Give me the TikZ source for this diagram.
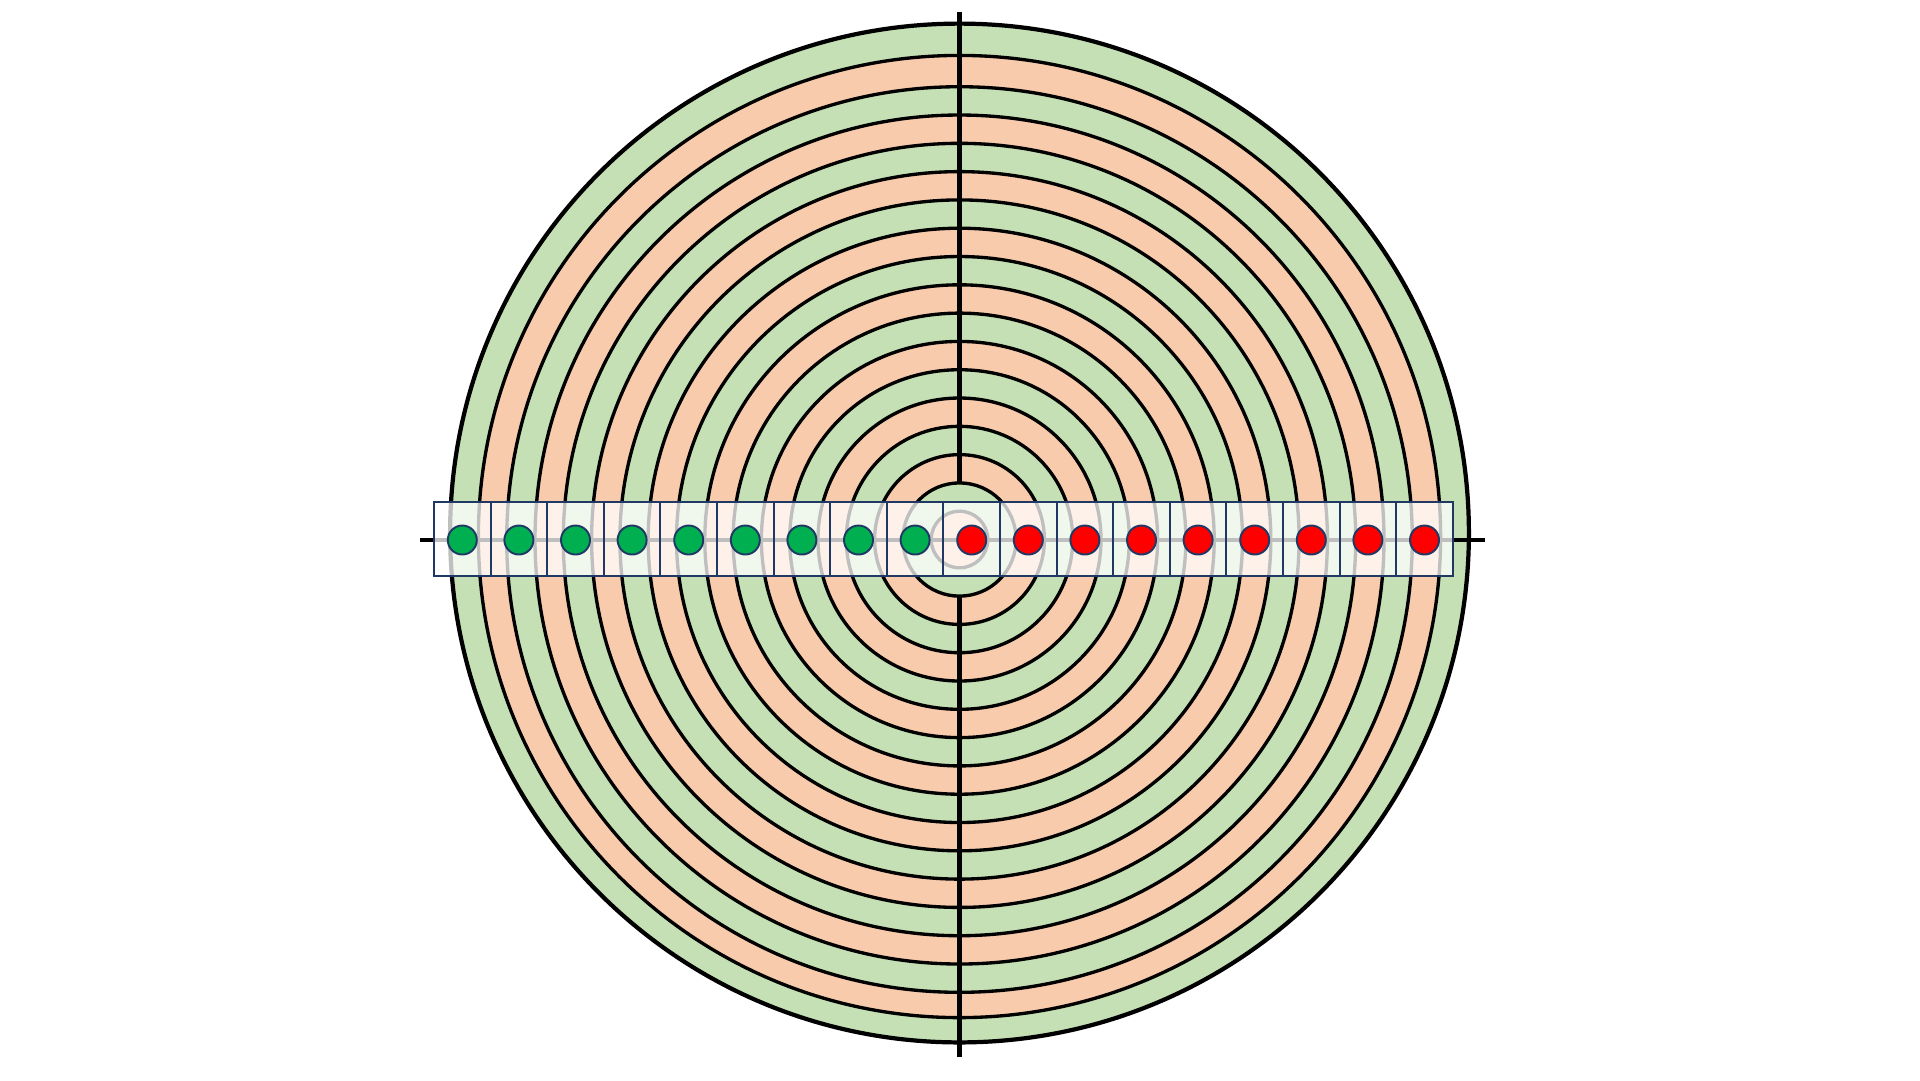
\documentclass[tikz,border=0pt]{standalone}
\definecolor{ringgreen}{RGB}{197,224,180}
\definecolor{ringpeach}{RGB}{248,203,173}
\definecolor{cellnavy}{RGB}{31,56,100}
\definecolor{dotgreen}{RGB}{0,176,80}
\definecolor{dotred}{RGB}{255,0,0}
\begin{document}
\begin{tikzpicture}[x=0.1mm, y=-0.1mm,
  ring/.style={draw=black, line width=0.95pt},
  axis/.style={draw=black, line width=1.2pt},
  cell/.style={draw=cellnavy, line width=0.55pt, fill=white, fill opacity=0.75},
  dot/.style={draw=cellnavy, line width=0.55pt}]

\useasboundingbox (0,0) rectangle (1920,1080);

\filldraw[ring, fill=ringgreen, line width=1.2pt] (959.5,533) circle (509.4);
\filldraw[ring, fill=ringpeach] (959.5,536.5) circle (481.1);
\filldraw[ring, fill=ringgreen] (959.5,539.5) circle (452.8);
\filldraw[ring, fill=ringpeach] (959.5,539.5) circle (424.5);
\filldraw[ring, fill=ringgreen] (959.5,539.5) circle (396.2);
\filldraw[ring, fill=ringpeach] (959.5,539.5) circle (367.9);
\filldraw[ring, fill=ringgreen] (959.5,539.5) circle (339.6);
\filldraw[ring, fill=ringpeach] (959.5,539.5) circle (311.3);
\filldraw[ring, fill=ringgreen] (959.5,539.5) circle (283);
\filldraw[ring, fill=ringpeach] (959.5,539.5) circle (254.7);
\filldraw[ring, fill=ringgreen] (959.5,539.5) circle (226.4);
\filldraw[ring, fill=ringpeach] (959.5,539.5) circle (198.1);
\filldraw[ring, fill=ringgreen] (959.5,539.5) circle (169.8);
\filldraw[ring, fill=ringpeach] (959.5,539.5) circle (141.5);
\filldraw[ring, fill=ringgreen] (959.5,539.5) circle (113.2);
\filldraw[ring, fill=ringpeach] (959.5,539.5) circle (84.9);

\draw[axis] (959.5,12) -- (959.5,1057);

\filldraw[ring, fill=ringgreen] (959.5,539.5) circle (56.6);
\filldraw[ring, fill=ringpeach] (959.5,539.5) circle (28.3);

\draw[axis] (420,540) -- (1485,540);

\draw[cell] (434,502) rectangle (490.6,576);
\draw[cell] (490.6,502) rectangle (547.2,576);
\draw[cell] (547.2,502) rectangle (603.8,576);
\draw[cell] (603.8,502) rectangle (660.4,576);
\draw[cell] (660.4,502) rectangle (717,576);
\draw[cell] (717,502) rectangle (773.6,576);
\draw[cell] (773.6,502) rectangle (830.2,576);
\draw[cell] (830.2,502) rectangle (886.8,576);
\draw[cell] (886.8,502) rectangle (943.4,576);
\draw[cell] (943.4,502) rectangle (1000,576);
\draw[cell] (1000,502) rectangle (1056.6,576);
\draw[cell] (1056.6,502) rectangle (1113.2,576);
\draw[cell] (1113.2,502) rectangle (1169.8,576);
\draw[cell] (1169.8,502) rectangle (1226.4,576);
\draw[cell] (1226.4,502) rectangle (1283,576);
\draw[cell] (1283,502) rectangle (1339.6,576);
\draw[cell] (1339.6,502) rectangle (1396.2,576);
\draw[cell] (1396.2,502) rectangle (1452.8,576);

\filldraw[dot, fill=dotgreen] (462.3,540) circle (14.5);
\filldraw[dot, fill=dotgreen] (518.9,540) circle (14.5);
\filldraw[dot, fill=dotgreen] (575.5,540) circle (14.5);
\filldraw[dot, fill=dotgreen] (632.1,540) circle (14.5);
\filldraw[dot, fill=dotgreen] (688.7,540) circle (14.5);
\filldraw[dot, fill=dotgreen] (745.3,540) circle (14.5);
\filldraw[dot, fill=dotgreen] (801.9,540) circle (14.5);
\filldraw[dot, fill=dotgreen] (858.5,540) circle (14.5);
\filldraw[dot, fill=dotgreen] (915.1,540) circle (14.5);
\filldraw[dot, fill=dotred] (971.7,540) circle (14.5);
\filldraw[dot, fill=dotred] (1028.3,540) circle (14.5);
\filldraw[dot, fill=dotred] (1084.9,540) circle (14.5);
\filldraw[dot, fill=dotred] (1141.5,540) circle (14.5);
\filldraw[dot, fill=dotred] (1198.1,540) circle (14.5);
\filldraw[dot, fill=dotred] (1254.7,540) circle (14.5);
\filldraw[dot, fill=dotred] (1311.3,540) circle (14.5);
\filldraw[dot, fill=dotred] (1367.9,540) circle (14.5);
\filldraw[dot, fill=dotred] (1424.5,540) circle (14.5);
\end{tikzpicture}
\end{document}
